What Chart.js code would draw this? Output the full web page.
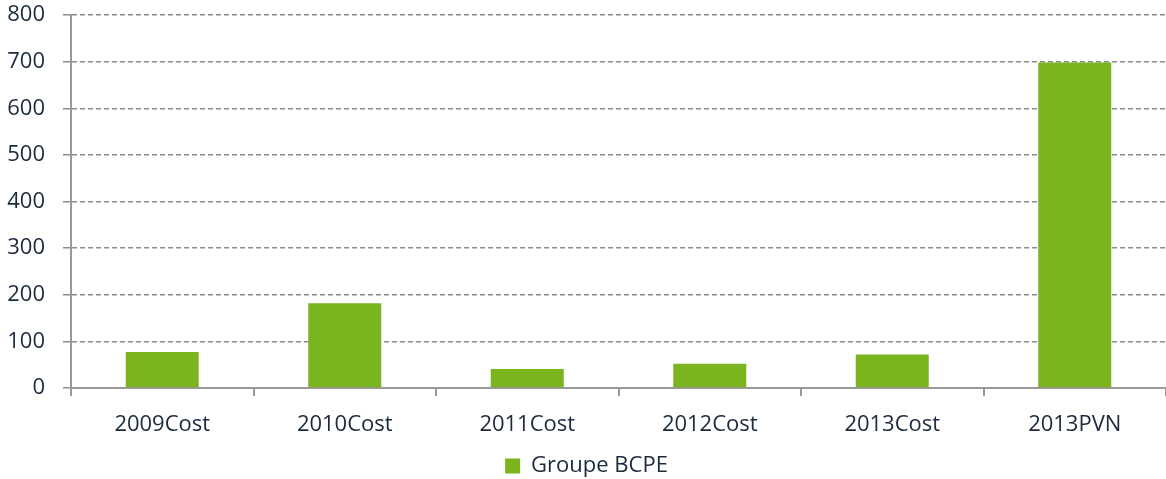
<!DOCTYPE html>
<html>
<head>
<meta charset="utf-8">
<script src="https://cdn.jsdelivr.net/npm/chart.js@4/dist/chart.umd.min.js"></script>
<style>
  html, body { margin: 0; padding: 0; background: #fff; }
  #wrap { width: 1166px; height: 479px; position: relative; }
</style>
</head>
<body>
<div id="wrap"><canvas id="chart"></canvas></div>
<script>
// Chart data
const categories = ['2009Cost', '2010Cost', '2011Cost', '2012Cost', '2013Cost', '2013PVN'];
const seriesName = 'Groupe BCPE';
const seriesValues = [77, 182, 41, 52, 72, 698];
const yTicks = [0, 100, 200, 300, 400, 500, 600, 700, 800];

const textColor = '#1b2a3d';
const barColor = '#7ab51f';

document.addEventListener('DOMContentLoaded', function() {
    const ctx = document.getElementById('chart');
    new Chart(ctx, {
        type: 'bar',
        data: {
            labels: categories,
            datasets: [{
                label: seriesName,
                data: seriesValues,
                backgroundColor: barColor,
                borderWidth: 0,
                categoryPercentage: 1,
                barPercentage: 0.4
            }]
        },
        options: {
            responsive: true,
            maintainAspectRatio: false,
            animation: false,
            layout: {
                autoPadding: false,
                padding: { left: 7, right: 0, top: 15, bottom: -8 }
            },
            plugins: {
                legend: {
                    position: 'bottom',
                    labels: {
                        color: textColor,
                        boxWidth: 15,
                        boxHeight: 15,
                        padding: 14,
                        font: { family: '"Open Sans", sans-serif', size: 22 }
                    }
                },
                tooltip: { enabled: false }
            },
            scales: {
                x: {
                    offset: true,
                    afterFit: function(scale) { scale.height = 53; },
                    grid: {
                        offset: true,
                        drawOnChartArea: false,
                        drawTicks: true,
                        tickLength: 8,
                        color: '#999999',
                        lineWidth: 2
                    },
                    border: { color: '#999999', width: 2 },
                    ticks: {
                        color: textColor,
                        padding: 16,
                        font: { family: '"Open Sans", sans-serif', size: 22 }
                    }
                },
                y: {
                    min: 0,
                    max: 800,
                    afterFit: function(scale) {
                        scale.width = 64;
                        scale.paddingTop = 0;
                        scale.paddingBottom = 0;
                    },
                    afterBuildTicks: function(axis) {
                        axis.ticks = yTicks.map(v => ({ value: v }));
                    },
                    grid: {
                        color: '#8a8a8a',
                        lineWidth: 1.5,
                        tickLength: 8
                    },
                    border: { color: '#999999', width: 2, dash: [5, 3] },
                    ticks: {
                        color: textColor,
                        padding: 18,
                        font: { family: '"Open Sans", sans-serif', size: 22 }
                    }
                }
            }
        }
    });
});
</script>
</body>
</html>
